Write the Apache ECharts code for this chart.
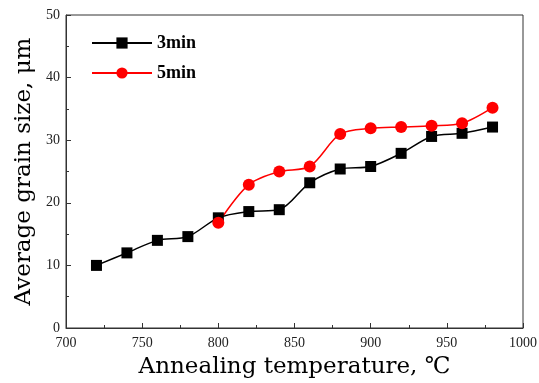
<!DOCTYPE html>
<html>
<head>
<meta charset="utf-8">
<script src="https://cdn.jsdelivr.net/npm/echarts@6/dist/echarts.min.js"></script>
<style>
  html, body { margin: 0; padding: 0; background: #fff; }
  #chart { width: 539px; height: 383px; }
</style>
</head>
<body>
<div id="chart"></div>
<script>
const temps3 = [720, 740, 760, 780, 800, 820, 840, 860, 880, 900, 920, 940, 960, 980];
const size3 = [10.0, 12.0, 14.0, 14.6, 17.6, 18.6, 18.9, 23.2, 25.4, 25.8, 27.9, 30.6, 31.1, 32.1];
const temps5 = [800, 820, 840, 860, 880, 900, 920, 940, 960, 980];
const size5 = [16.8, 22.9, 25.0, 25.8, 31.0, 31.9, 32.1, 32.3, 32.7, 35.2];

const serif = 'Liberation Serif';
const titleFont = 'DejaVu Serif';
const axisColor = '#333';

const chart = echarts.init(document.getElementById('chart'));

function pairs(xs, ys) {
  return xs.map((x, i) => [x, ys[i]]);
}

const option = {
  animation: false,
  grid: {
    left: 66, right: 16, top: 15, bottom: 55,
    outerBoundsMode: 'none',
    show: true, borderColor: axisColor, borderWidth: 1
  },
  legend: {
    left: 86, top: 29, orient: 'vertical',
    itemWidth: 60, itemHeight: 14, itemGap: 12,
    textStyle: { fontFamily: serif, fontWeight: 'bold', fontSize: 18, color: '#000' },
    data: ['3min', '5min']
  },
  xAxis: {
    type: 'value', min: 700, max: 1000, interval: 50,
    name: 'Annealing temperature, ℃', nameLocation: 'middle', nameGap: 28,
    nameTextStyle: { fontFamily: titleFont, fontSize: 23, color: '#000' },
    axisLine: { lineStyle: { color: axisColor } },
    axisTick: { inside: true, length: 5, lineStyle: { color: axisColor } },
    minorTick: { show: true, splitNumber: 2, length: 3, lineStyle: { color: axisColor } },
    axisLabel: { fontFamily: serif, fontSize: 14, color: '#222', margin: 8, formatter: v => String(v) },
    splitLine: { show: false }
  },
  yAxis: {
    type: 'value', min: 0, max: 50, interval: 10,
    name: 'Average grain size, μm', nameLocation: 'middle', nameGap: 28,
    nameTextStyle: { fontFamily: titleFont, fontSize: 23, color: '#000' },
    axisLine: { show: true, lineStyle: { color: axisColor } },
    axisTick: { inside: true, length: 5, lineStyle: { color: axisColor } },
    minorTick: { show: true, splitNumber: 2, length: 3, lineStyle: { color: axisColor } },
    axisLabel: { fontFamily: serif, fontSize: 14, color: '#222', margin: 6 },
    splitLine: { show: false }
  },
  series: [
    {
      name: '3min', type: 'line', smooth: 0.3,
      data: pairs(temps3, size3),
      symbol: 'rect', symbolSize: 11,
      itemStyle: { color: '#000' },
      lineStyle: { color: '#000', width: 1.5 }
    },
    {
      name: '5min', type: 'line', smooth: 0.3,
      data: pairs(temps5, size5),
      symbol: 'circle', symbolSize: 12,
      itemStyle: { color: '#ff0000' },
      lineStyle: { color: '#ff0000', width: 1.5 }
    }
  ]
};

chart.setOption(option);
</script>
</body>
</html>
